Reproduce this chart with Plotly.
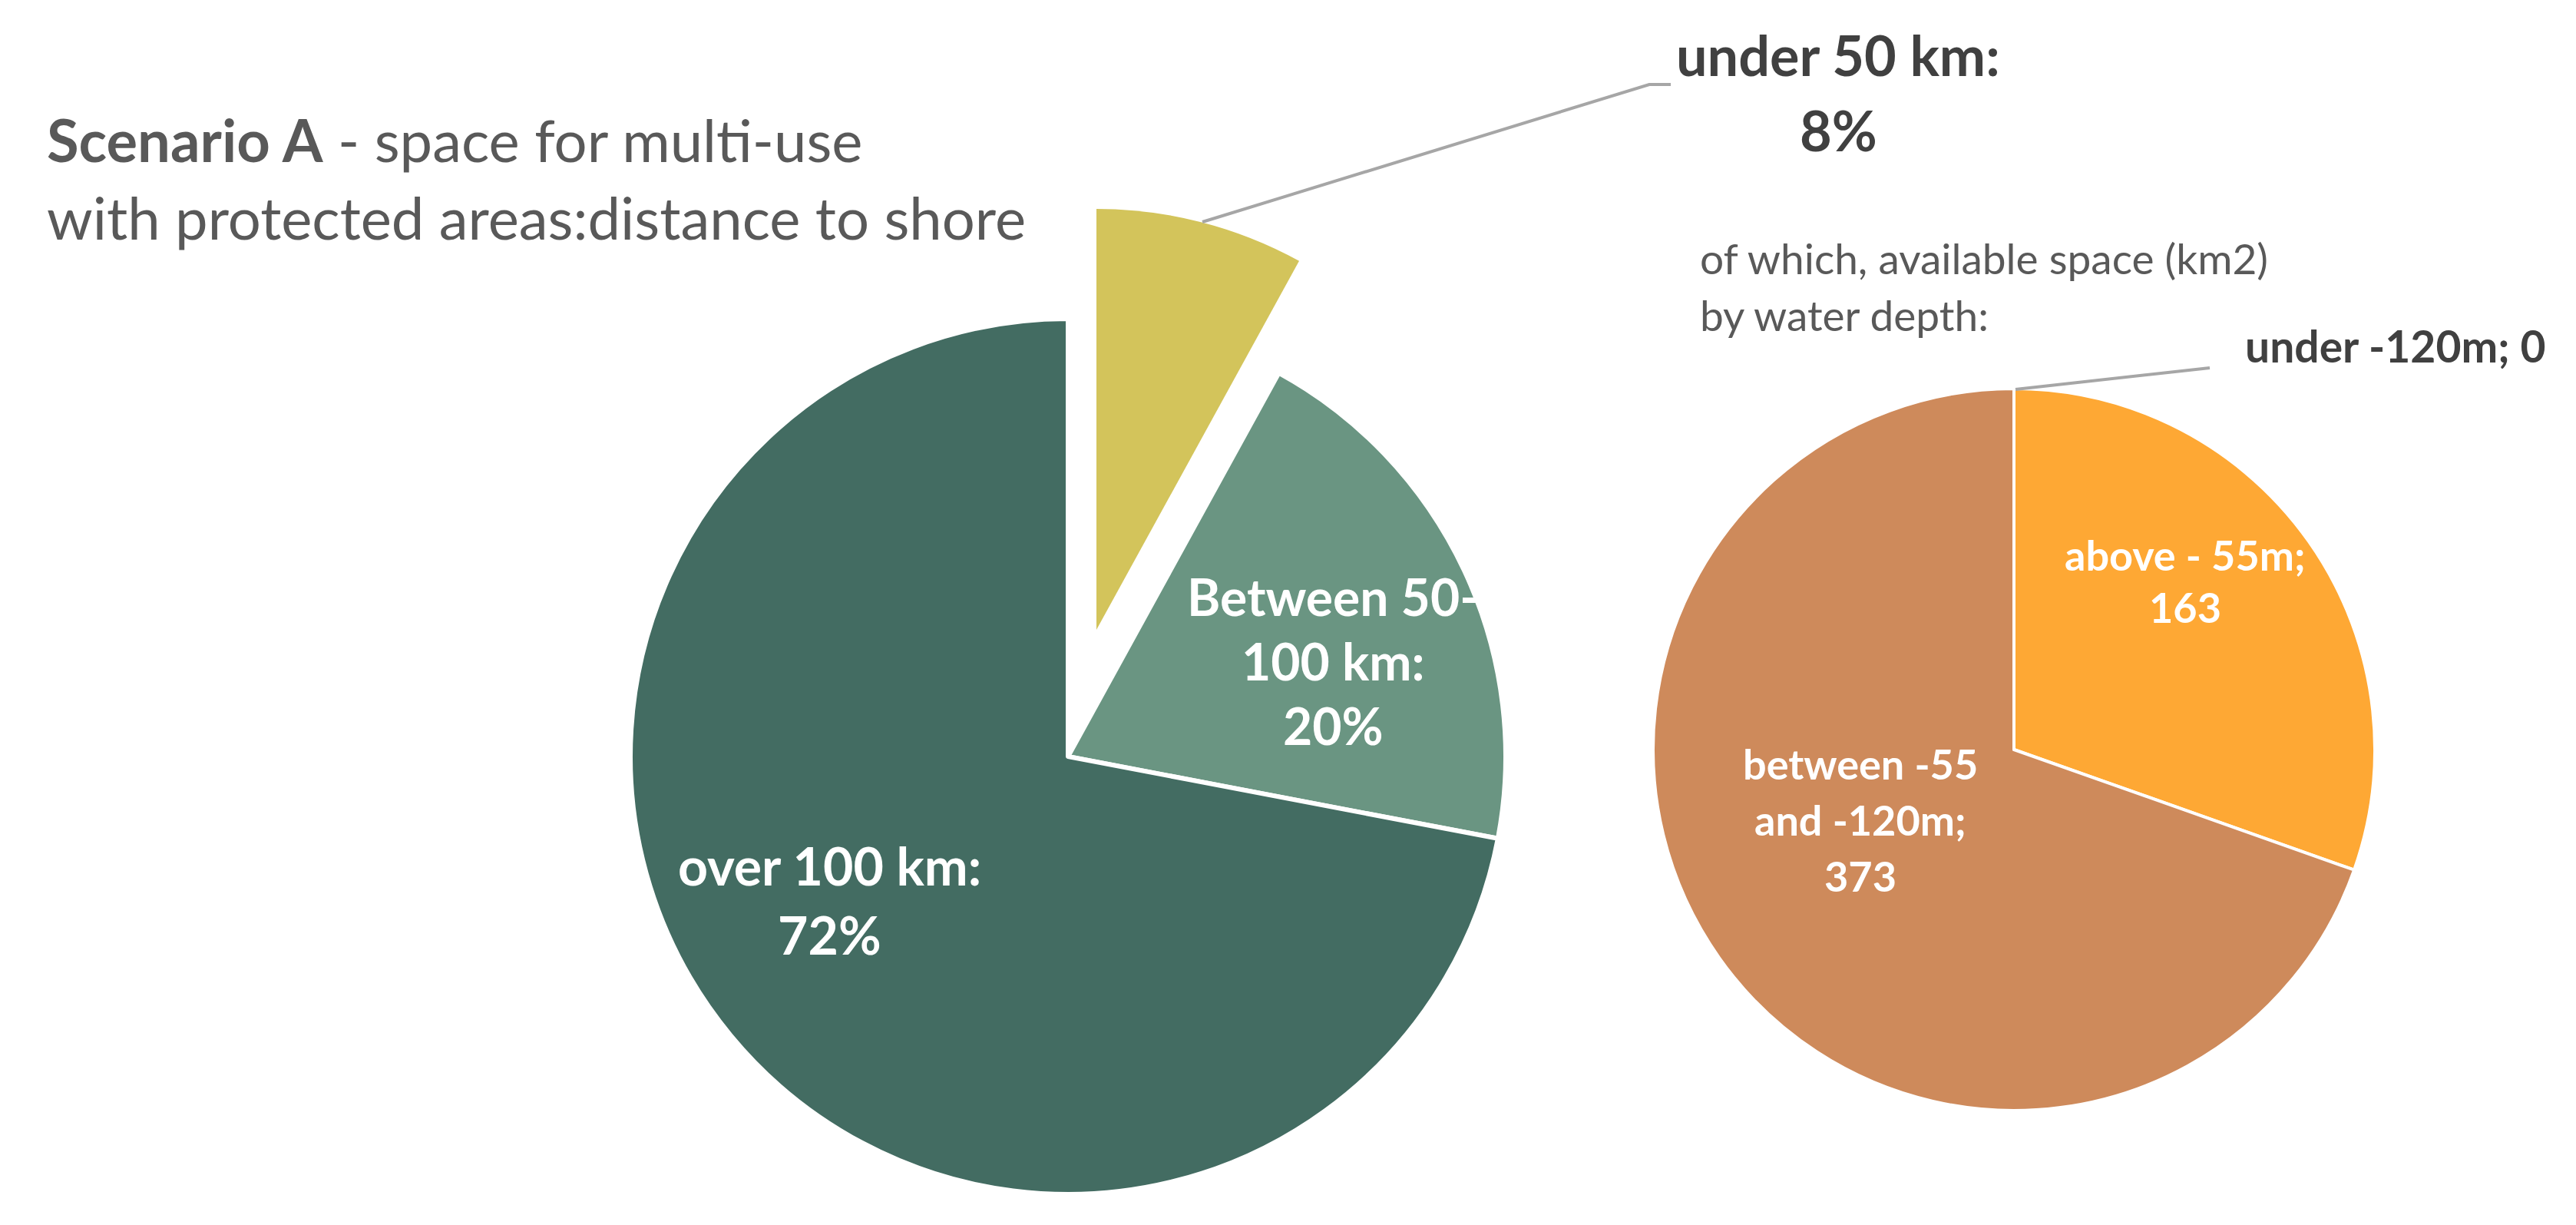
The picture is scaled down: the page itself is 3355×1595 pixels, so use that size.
import plotly.graph_objects as go

W, H = 3355, 1595

# distance to shore (share of space, %)
shore_labels = ["under 50 km", "Between 50-<br>100 km", "over 100 km"]
shore_pct = [8, 20, 72]
shore_colors = ["#D3C45B", "#6A9582", "#436C62"]

# of which, available space (km2) by water depth
depth_labels = ["above - 55m", "between -55<br>and -120m", "under -120m"]
depth_km2 = [163, 373, 0]
depth_colors = ["#FEA834", "#CE8A5B", "#8C8C8C"]

TITLE = ["<b>Scenario A</b> - space for multi-use", "with protected areas:distance to shore"]
SUBTITLE = ["of which, available space (km2)", "by water depth:"]

FONT = "Lato"
GREY = "#595959"
DARK = "#404040"
CLEAR = "rgba(0,0,0,0)"


def dom(cx, cy, r):
    # pixel centre/radius -> paper domain
    return dict(x=[(cx - r) / W, (cx + r) / W],
                y=[(H - cy - r) / H, (H - cy + r) / H])


def text_block(text, x, y, step, size, color, bold=False, anchor="center"):
    # one annotation per line so the line spacing can follow the original
    out = []
    for i, line in enumerate(text.split("<br>")):
        if bold:
            line = f"<b>{line}</b>"
        out.append(dict(
            x=x / W, y=1 - (y + i * step - 0.19 * size) / H,
            xref="paper", yref="paper", showarrow=False,
            xanchor=anchor, yanchor="middle", text=line,
            font=dict(family=FONT, size=size, color=color)))
    return out


fig = go.Figure()

# main pie, first slice left empty (drawn exploded below)
fig.add_trace(go.Pie(
    labels=shore_labels,
    values=shore_pct,
    sort=False, direction="clockwise", rotation=0,
    marker=dict(colors=[CLEAR] + shore_colors[1:], line=dict(color="white", width=6)),
    textinfo="none",
    domain=dom(1383, 977, 570),
    showlegend=False,
    hoverinfo="label+percent",
))

# exploded slice
fig.add_trace(go.Pie(
    labels=[shore_labels[0], "rest"],
    values=[shore_pct[0], sum(shore_pct[1:])],
    sort=False, direction="clockwise", rotation=0,
    marker=dict(colors=[shore_colors[0], CLEAR], line=dict(width=0)),
    textinfo="none",
    domain=dom(1420, 812, 548),
    showlegend=False,
    hoverinfo="skip",
))

# depth pie
fig.add_trace(go.Pie(
    labels=depth_labels,
    values=depth_km2,
    sort=False, direction="clockwise", rotation=0,
    marker=dict(colors=depth_colors, line=dict(color="white", width=4)),
    textinfo="none",
    domain=dom(2615, 968, 470),
    showlegend=False,
    hoverinfo="label+value",
))

shore_text = [f"{l}:<br>{v}%" for l, v in zip(shore_labels, shore_pct)]
depth_text = [f"{l};<br>{v}" for l, v in zip(depth_labels, depth_km2)]

ann = []
ann += text_block(TITLE[0], 51, 188, 0, 76, GREY, anchor="left")
ann += text_block(TITLE[1], 51, 289, 0, 76, GREY, anchor="left")
ann += text_block(SUBTITLE[0], 2204, 338, 0, 55, GREY, anchor="left")
ann += text_block(SUBTITLE[1], 2204, 412, 0, 55, GREY, anchor="left")

ann += text_block(shore_text[0], 2386, 77, 98, 72, DARK, bold=True)
ann += text_block(shore_text[1], 1728, 781, 84, 66, "white", bold=True)
ann += text_block(shore_text[2], 1072, 1131, 90, 68, "white", bold=True)

ann += text_block(depth_text[0], 2838, 725, 68, 54, "white", bold=True)
ann += text_block(depth_text[1], 2415, 997, 73, 54, "white", bold=True)
ann += text_block(depth_text[2].replace("<br>", " "), 3112, 453, 0, 57, DARK, bold=True)

leader = dict(color="#A6A6A6", width=4)
shapes = [
    dict(type="path", xref="paper", yref="paper",
         path=f"M {1558 / W},{1 - 281 / H} L {2140 / W},{1 - 102 / H} L {2168 / W},{1 - 102 / H}",
         line=leader),
    dict(type="line", xref="paper", yref="paper",
         x0=2617 / W, y0=1 - 499 / H, x1=2870 / W, y1=1 - 471 / H, line=leader),
]

fig.update_layout(
    width=W, height=H,
    margin=dict(l=0, r=0, t=0, b=0),
    paper_bgcolor="white", plot_bgcolor="white",
    font=dict(family=FONT),
    annotations=ann,
    shapes=shapes,
)

fig.write_html("out.html")
